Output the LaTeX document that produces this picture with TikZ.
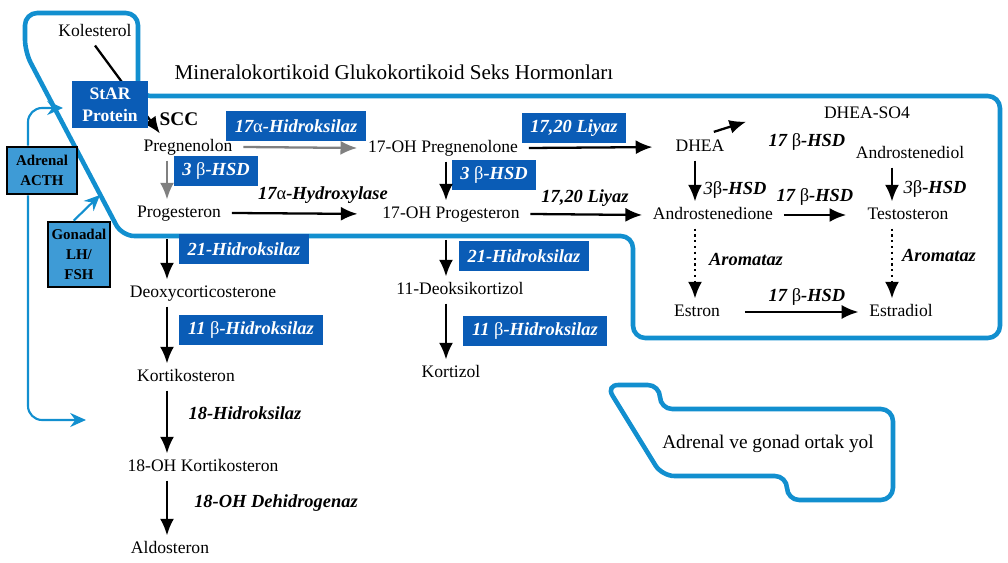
\documentclass[tikz,border=0pt]{standalone}
\usepackage{fontspec}
\setmainfont{Liberation Serif}
\usetikzlibrary{arrows.meta}
\definecolor{enz}{RGB}{10,92,182}
\definecolor{bl}{RGB}{18,143,207}
\definecolor{hb}{RGB}{62,155,214}
\newcommand{\ug}[1]{{\normalfont #1}}

\begin{document}
\begin{tikzpicture}[x=0.02cm, y=-0.02cm]
	\tikzset{hn/.style={font=\fontsize{10}{12}\selectfont, inner xsep=6pt, inner ysep=3pt, text height=7pt, text depth=2pt},
	en/.style={fill=enz, text=white, font=\fontsize{10.5}{12}\selectfont\bfseries\itshape, inner xsep=5pt, inner ysep=0pt, minimum height=0.6cm},
	lb/.style={font=\fontsize{10.5}{12}\selectfont\bfseries\itshape, inner sep=1pt},
	sb/.style={fill=enz, text=white, font=\fontsize{10}{12.5}\selectfont\bfseries, align=center, inner sep=0pt},
	hk/.style={fill=hb, draw=black, line width=1.6pt, font=\fontsize{8.5}{11.5}\selectfont\bfseries, align=center, inner sep=0pt},
	fa/.style={-{Latex[length=9.5pt,width=8pt]}, line width=1.3pt},
	ga/.style={fa, draw=gray},
	da/.style={fa, dotted},
	bo/.style={draw=bl, line width=2.6pt, rounded corners=7pt},
	bla/.style={draw=bl, line width=1.2pt, -{Stealth[length=9pt,width=8pt]}, rounded corners=8pt}}
	\useasboundingbox (0,0) rectangle (1008,563);

	\draw[bo] (25,52) -- (25,13) -- (138,13) -- (138,96) -- (1000,96) -- (1000,338) -- (633,338) -- (633,236) -- (122,236) -- cycle;
	\draw[bo] (606,385) -- (660,385) -- (660,409) -- (893,409) -- (893,500) -- (787,500) -- (787,476) -- (662,476) -- cycle;

	\coordinate (lx) at (167,0);
	\coordinate (mx) at (446,0);
	\coordinate (dx) at (695,0);
	\coordinate (tx) at (892,0);
	\coordinate (vx) at (28,0);
	\coordinate (inA) at (63,108);
	\coordinate (inB) at (86,420);
	\coordinate (inG) at (100,195);

	\node[hn] (kol) at (95,32) {Kolesterol};
	\node[hn, font=\fontsize{12}{14}\selectfont] (mgs) at (394,75) {Mineralokortikoid Glukokortikoid Seks Hormonları};
	\node[hn] (preg) at (188,147) {Pregnenolon};
	\node[hn] (prog) at (179,213) {Progesteron};
	\node[hn] (ohpreg) at (443,148) {17-OH Pregnenolone};
	\node[hn] (ohprog) at (451,214) {17-OH Progesteron};
	\node[hn] (dhea) at (700,147) {DHEA};
	\node[hn] (dheaso) at (867,114) {DHEA-SO4};
	\node[hn] (andiol) at (910,154) {Androstenediol};
	\node[hn] (andione) at (713,215) {Androstenedione};
	\node[hn] (testo) at (908,215) {Testosteron};
	\node[hn] (estron) at (697,312) {Estron};
	\node[hn] (estradiol) at (901,312) {Estradiol};
	\node[hn] (deoxy) at (203,293) {Deoxycorticosterone};
	\node[hn] (kortiko) at (186,377) {Kortikosteron};
	\node[hn] (ohkort) at (203,467) {18-OH Kortikosteron};
	\node[hn] (aldo) at (170,549) {Aldosteron};
	\node[hn] (deoks) at (460,290) {11-Deoksikortizol};
	\node[hn] (kortizol) at (451,373) {Kortizol};
	\node[hn, font=\fontsize{11}{13}\selectfont] (ortak) at (768,444) {Adrenal ve gonad ortak yol};

	\draw[fa] (kol.south) -- ([xshift=-16pt]preg.north);
	\node[sb, minimum width=1.52cm, minimum height=0.94cm] (star) at (110,104.5) {StAR\\Protein};
	\node[font=\fontsize{11}{13}\selectfont\bfseries, inner sep=1pt] (scc) at (179,119) {SCC};

	\node[hk, minimum width=1.4cm, minimum height=0.94cm] (acth) at (42,170.5) {Adrenal\\ACTH};
	\node[hk, minimum width=1.24cm, minimum height=1.3cm] (lh) at (79,254.5) {Gonadal\\LH/\\FSH};
	\draw[bla] (acth.north -| vx) |- (inA);
	\draw[bla] (acth.south -| vx) |- (inB);
	\draw[bla] ([xshift=-3pt]lh.north) -- (inG);

	\node[en] (e17a) at (296,126) {17\ug{α}-Hidroksilaz};
	\node[en] (e3b) at (216,171) {3 \ug{β}-HSD};
	\node[en] (e1720) at (574,128) {17,20 Liyaz};
	\node[en] (e3bm) at (494,175) {3 \ug{β}-HSD};
	\node[en] (e21) at (244,249) {21-Hidroksilaz};
	\node[en] (e11) at (251,330) {11 \ug{β}-Hidroksilaz};
	\node[en] (e21m) at (524,256) {21-Hidroksilaz};
	\node[en] (e11m) at (535,331) {11 \ug{β}-Hidroksilaz};

	\node[lb] (hyd) at (323,195) {17\ug{α}-Hydroxylase};
	\node[lb] (liy) at (585,198) {17,20 Liyaz};
	\node[lb] (b17a) at (807,142) {17 \ug{β}-HSD};
	\node[lb] (b3a) at (735,190) {\ug{\itshape 3}\ug{β}-HSD};
	\node[lb] (b17b) at (815,197) {17 \ug{β}-HSD};
	\node[lb] (b3b) at (935,189) {\ug{\itshape 3}\ug{β}-HSD};
	\node[lb] (aro1) at (746,260) {Aromataz};
	\node[lb] (aro2) at (939,256) {Aromataz};
	\node[lb] (b17c) at (807,297) {17 \ug{β}-HSD};
	\node[lb] (h18) at (245,413) {18-Hidroksilaz};
	\node[lb] (hdeh) at (276,503) {18-OH Dehidrogenaz};

	\draw[ga] (preg.east) -- (ohpreg.west);
	\draw[ga] (preg.south -| lx) -- (prog.north -| lx);
	\draw[fa, shorten >=7pt] (ohpreg.east) -- (dhea.west);
	\draw[fa] (ohpreg.south -| mx) -- (ohprog.north -| mx);
	\draw[fa, shorten >=8pt] (prog.east) -- (ohprog.west);
	\draw[fa] (ohprog.east) -- (andione.west);
	\draw[fa, shorten <=3pt, shorten >=40pt] ([xshift=5pt]dhea.north) -- (dheaso.north west);
	\draw[fa] (dhea.south -| dx) -- (andione.north -| dx);
	\draw[fa] (andiol.south -| tx) -- (testo.north -| tx);
	\draw[fa, shorten >=6pt] (andione.east) -- (testo.west);
	\draw[da] (andione.south -| dx) -- (estron.north -| dx);
	\draw[da] (testo.south -| tx) -- (estradiol.north -| tx);
	\draw[fa, shorten <=8pt] (estron.east) -- (estradiol.west);
	\draw[fa, shorten <=7pt] (prog.south -| lx) -- (deoxy.north -| lx);
	\draw[fa] (deoxy.south -| lx) -- (kortiko.north -| lx);
	\draw[fa] (kortiko.south -| lx) -- (ohkort.north -| lx);
	\draw[fa] (ohkort.south -| lx) -- (aldo.north -| lx);
	\draw[fa, shorten <=7pt] (ohprog.south -| mx) -- (deoks.north -| mx);
	\draw[fa] (deoks.south -| mx) -- (kortizol.north -| mx);
\end{tikzpicture}
\end{document}
